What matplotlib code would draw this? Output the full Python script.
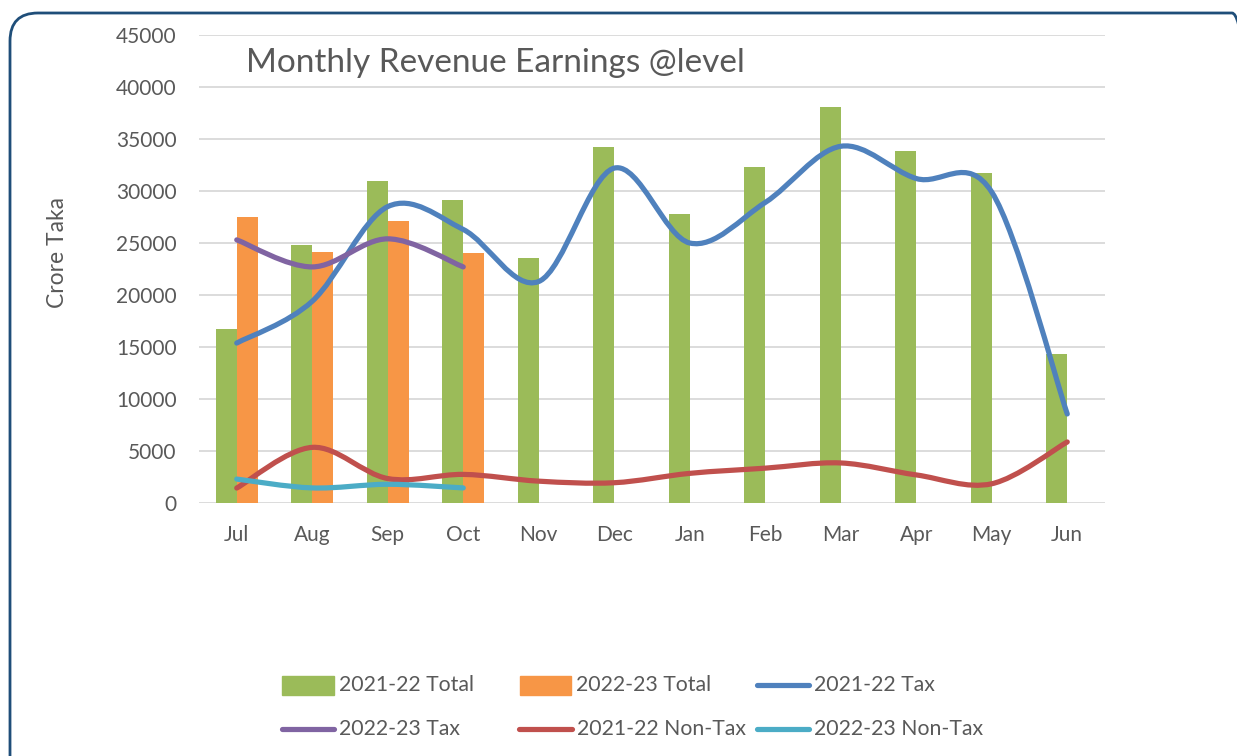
import numpy as np
import matplotlib.pyplot as plt
from matplotlib.path import Path
from matplotlib.patches import PathPatch, FancyBboxPatch, Rectangle
from matplotlib.lines import Line2D
from matplotlib.transforms import IdentityTransform

months = ["Jul", "Aug", "Sep", "Oct", "Nov", "Dec", "Jan", "Feb", "Mar", "Apr", "May", "Jun"]
total_2122 = [16700, 24800, 30950, 29100, 23600, 34250, 27800, 32300, 38100, 33850, 31700, 14300]
total_2223 = [27500, 24130, 27150, 24040]
tax_2122 = [15380, 19400, 28500, 26300, 21300, 32200, 25000, 28900, 34300, 31200, 29900, 8560]
tax_2223 = [25300, 22700, 25400, 22700]
nontax_2122 = [1440, 5350, 2350, 2750, 2100, 1950, 2850, 3350, 3850, 2700, 1850, 5870]
nontax_2223 = [2300, 1450, 1800, 1450]

W, H = 1237, 756
TEXT = "#595959"
GREEN, ORANGE = "#9BBB59", "#F79646"
BLUE, PURPLE, RED, CYAN = "#4F81BD", "#8064A2", "#C0504D", "#4BACC6"
FONT = "Lato"
LW = 3.75


def fx(x):
    return x / W


def fy(y):
    return 1 - y / H


def smooth_path(ys):
    # Excel-like smoothed line: cubic Bezier through each point
    pts = np.column_stack([np.arange(len(ys)), ys]).astype(float)
    verts = [pts[0]]
    codes = [Path.MOVETO]
    n = len(pts)
    for i in range(n - 1):
        p0 = pts[max(i - 1, 0)]
        p1, p2 = pts[i], pts[i + 1]
        p3 = pts[min(i + 2, n - 1)]
        verts += [p1 + (p2 - p0) / 6, p2 - (p3 - p1) / 6, p2]
        codes += [Path.CURVE4] * 3
    return Path(verts, codes)


fig = plt.figure(figsize=(W / 100, H / 100), dpi=100)
ax = fig.add_axes([fx(199), fy(503), (1105 - 199) / W, (503 - 35) / H])

x = np.arange(len(months))
bw = 0.28
ax.bar(x - bw / 2, total_2122, width=bw, color=GREEN, zorder=2)
ax.bar(x[:len(total_2223)] + bw / 2, total_2223, width=bw, color=ORANGE, zorder=2)

for ys, c in [(tax_2122, BLUE), (tax_2223, PURPLE), (nontax_2122, RED), (nontax_2223, CYAN)]:
    ax.add_patch(PathPatch(smooth_path(ys), fill=False, edgecolor=c, lw=LW,
                           capstyle="round", joinstyle="round", zorder=3))

ax.set_xlim(-0.5, len(months) - 0.5)
ax.set_ylim(0, 45000)
ax.set_yticks(np.arange(0, 45001, 5000))
ax.set_xticks(x)
ax.set_xticklabels(months)
ax.grid(axis="y", color="#D9D9D9", lw=1.3, zorder=0)
ax.set_axisbelow(True)
for s in ax.spines.values():
    s.set_visible(False)
ax.tick_params(length=0, labelsize=15, labelcolor=TEXT)
ax.tick_params(axis="y", pad=16)
ax.tick_params(axis="x", pad=16)
for lab in ax.get_xticklabels() + ax.get_yticklabels():
    lab.set_family(FONT)

fig.text(fx(246), fy(63), "Monthly Revenue Earnings @level", fontsize=24,
         family=FONT, color=TEXT, ha="left", va="center")
fig.text(fx(58), fy(253), "Crore Taka", fontsize=16.5, family=FONT, color=TEXT,
         rotation=90, ha="center", va="center")

# rounded frame
fig.add_artist(FancyBboxPatch((10, -30), 1250, H - 13 + 30, boxstyle="round,pad=0,rounding_size=28",
                              transform=IdentityTransform(), fill=False,
                              edgecolor="#1F4E79", lw=2))

# legend drawn by hand so the columns line up like the original
legend = [
    ("rect", GREEN, 282, 334, 685, "2021-22 Total"),
    ("rect", ORANGE, 520, 571, 685, "2022-23 Total"),
    ("line", BLUE, 757, 809, 685, "2021-22 Tax"),
    ("line", PURPLE, 282, 334, 729, "2022-23 Tax"),
    ("line", RED, 519, 572, 729, "2021-22 Non-Tax"),
    ("line", CYAN, 757, 809, 729, "2022-23 Non-Tax"),
]
for kind, c, x0, x1, yc, label in legend:
    if kind == "rect":
        fig.add_artist(Rectangle((fx(x0), fy(yc + 9.5)), (x1 - x0) / W, 19 / H,
                                 transform=fig.transFigure, color=c))
    else:
        fig.add_artist(Line2D([fx(x0), fx(x1)], [fy(yc), fy(yc)], transform=fig.transFigure,
                              color=c, lw=LW, solid_capstyle="round"))
    fig.text(fx(x1 + 5), fy(yc), label, fontsize=15.3, family=FONT, color=TEXT,
             ha="left", va="center")

fig.savefig("out.png", dpi=100)
